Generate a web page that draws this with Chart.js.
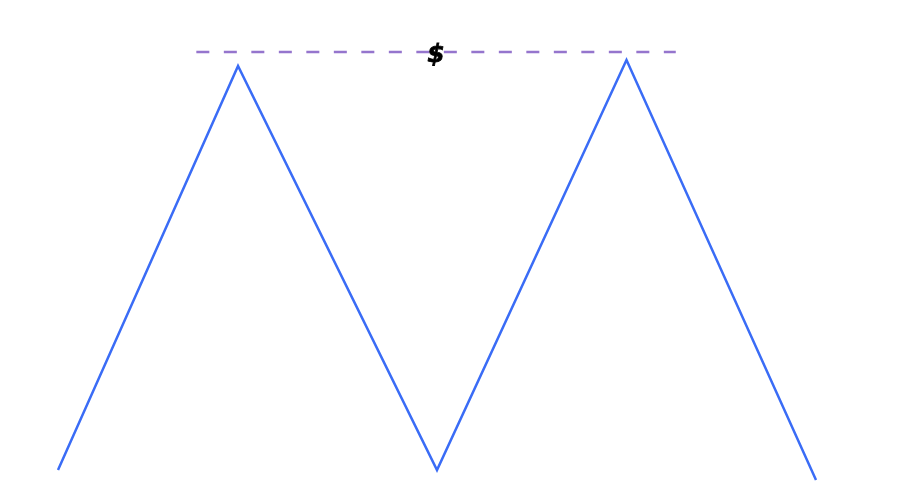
<!DOCTYPE html>
<html lang="en">
<head>
    <meta charset="UTF-8">
    <title>Double top</title>
    <script src="https://cdn.jsdelivr.net/npm/chart.js"></script>
    <style>
        html, body { margin: 0; padding: 0; background: #fff; }
        #wrap { width: 909px; height: 502px; }
    </style>
</head>
<body>
    <div id="wrap"><canvas id="chart"></canvas></div>

    <script>
        // price path (x = time step, y = price)
        const stepX = [0, 0.95, 2, 3, 4];
        const price = [2.5, 103.5, 2.5, 105, 0];

        // resistance level and where it is drawn
        const levelX = [0.73, 3.26];
        const levelY = 107;
        const levelLabel = '$';
        const labelX = 1.995;

        const ctx = document.getElementById('chart').getContext('2d');

        // draws the "$" marker on the level line
        const labelPlugin = {
            id: 'levelLabel',
            afterDatasetsDraw(chart) {
                const { ctx, scales } = chart;
                ctx.save();
                ctx.font = 'italic bold 25px "DejaVu Sans", sans-serif';
                ctx.fillStyle = '#000';
                ctx.strokeStyle = '#000';
                ctx.lineWidth = 0.8;
                ctx.textAlign = 'center';
                ctx.textBaseline = 'middle';
                const px = scales.x.getPixelForValue(labelX);
                const py = scales.y.getPixelForValue(levelY) + 3;
                ctx.fillText(levelLabel, px, py);
                ctx.strokeText(levelLabel, px, py);
                ctx.restore();
            }
        };

        new Chart(ctx, {
            type: 'line',
            data: {
                datasets: [
                    {
                        label: 'price',
                        data: stepX.map((x, i) => ({ x: x, y: price[i] })),
                        borderColor: '#3a6cf6',
                        borderWidth: 2.5,
                        pointRadius: 0,
                        tension: 0,
                        clip: false
                    },
                    {
                        label: 'level',
                        data: levelX.map(x => ({ x: x, y: levelY })),
                        borderColor: '#9575cd',
                        borderWidth: 2.5,
                        borderDash: [13, 14.5],
                        pointRadius: 0,
                        clip: false
                    }
                ]
            },
            options: {
                responsive: true,
                maintainAspectRatio: false,
                animation: false,
                layout: { padding: { left: 58, right: 93, top: 40, bottom: 22 } },
                plugins: {
                    legend: { display: false },
                    tooltip: { enabled: false }
                },
                scales: {
                    x: { type: 'linear', min: 0, max: 4, display: false },
                    y: { min: 0, max: 110, display: false }
                }
            },
            plugins: [labelPlugin]
        });
    </script>
</body>
</html>
